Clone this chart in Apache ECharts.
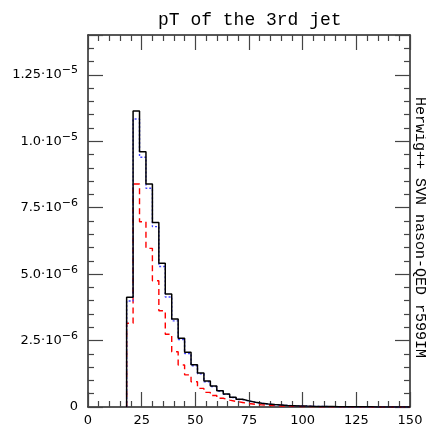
<!DOCTYPE html>
<html>
<head>
<meta charset="utf-8">
<script src="https://cdn.jsdelivr.net/npm/echarts@6/dist/echarts.min.js"></script>
<style>
  html, body { margin: 0; padding: 0; background: #fff; }
  #chart { width: 426px; height: 427px; }
</style>
</head>
<body>
<div id="chart"></div>
<script>
// bin lower edges (GeV), bin width 3
var binEdges = [18, 21, 24, 27, 30, 33, 36, 39, 42, 45, 48, 51, 54, 57, 60, 63, 66, 69, 72, 75,
  78, 81, 84, 87, 90, 93, 96, 99, 102, 105, 108, 111, 114, 117, 120, 123, 126, 129, 132, 135,
  138, 141, 144, 147, 150];

// Herwig++ (black, solid)
var blackVals = [4.13e-6, 11.14e-6, 9.61e-6, 8.39e-6, 6.94e-6, 5.41e-6, 4.25e-6, 3.31e-6, 2.59e-6, 2.06e-6,
  1.59e-6, 1.28e-6, 0.98e-6, 0.79e-6, 0.61e-6, 0.49e-6, 0.37e-6, 0.29e-6, 0.23e-6, 0.18e-6,
  0.145e-6, 0.115e-6, 0.09e-6, 0.075e-6, 0.06e-6, 0.05e-6, 0.04e-6, 0.033e-6, 0.027e-6, 0.022e-6,
  0.018e-6, 0.015e-6, 0.012e-6, 0.010e-6, 0.008e-6, 0.007e-6, 0.006e-6, 0.005e-6, 0.004e-6, 0.0035e-6,
  0.003e-6, 0.0025e-6, 0.002e-6, 0.0018e-6];

// blue, dotted
var blueVals = [3.99e-6, 10.84e-6, 9.40e-6, 8.23e-6, 6.79e-6, 5.29e-6, 4.14e-6, 3.24e-6, 2.54e-6, 2.01e-6,
  1.55e-6, 1.25e-6, 0.95e-6, 0.77e-6, 0.59e-6, 0.475e-6, 0.36e-6, 0.28e-6, 0.22e-6, 0.175e-6,
  0.14e-6, 0.11e-6, 0.087e-6, 0.072e-6, 0.058e-6, 0.048e-6, 0.039e-6, 0.032e-6, 0.026e-6, 0.021e-6,
  0.017e-6, 0.014e-6, 0.0115e-6, 0.0095e-6, 0.0078e-6, 0.0068e-6, 0.0058e-6, 0.0048e-6, 0.0039e-6, 0.0034e-6,
  0.0029e-6, 0.0024e-6, 0.002e-6, 0.0017e-6];

// red, dashed
var redVals = [3.15e-6, 8.39e-6, 6.97e-6, 5.97e-6, 4.75e-6, 3.62e-6, 2.74e-6, 2.08e-6, 1.58e-6, 1.21e-6,
  0.95e-6, 0.70e-6, 0.55e-6, 0.43e-6, 0.33e-6, 0.26e-6, 0.21e-6, 0.17e-6, 0.13e-6, 0.10e-6,
  0.08e-6, 0.065e-6, 0.05e-6, 0.04e-6, 0.032e-6, 0.026e-6, 0.021e-6, 0.017e-6, 0.014e-6, 0.011e-6,
  0.009e-6, 0.0075e-6, 0.006e-6, 0.005e-6, 0.004e-6, 0.0035e-6, 0.003e-6, 0.0025e-6, 0.002e-6, 0.0017e-6,
  0.0015e-6, 0.0012e-6, 0.001e-6, 0.0008e-6];

var xTicks = [0, 25, 50, 75, 100, 125, 150];
var yTicks = [0, 2.5e-6, 5.0e-6, 7.5e-6, 1.0e-5, 1.25e-5];

// histogram -> step points
function histPoints(vals) {
  var pts = [[binEdges[0], 0]];
  for (var i = 0; i < vals.length; i++) {
    pts.push([binEdges[i], vals[i]]);
  }
  pts.push([binEdges[vals.length], vals[vals.length - 1]]);
  return pts;
}

// "1.25·10^-5" style labels
function sciLabel(v) {
  if (v === 0) return '{m|0}';
  var e = Math.floor(Math.log10(v) + 1e-9);
  var m = Number((v / Math.pow(10, e)).toPrecision(6));
  var ms = (m % 1 === 0) ? m.toFixed(1) : String(m);
  return '{m|' + ms + '·10}{e|\u2212' + Math.abs(e) + '}';
}

var chart = echarts.init(document.getElementById('chart'));

var tickCol = '#444';
var frameAxis = {
  axisLine: { show: true, onZero: false, lineStyle: { color: '#222', width: 1.5 } },
  axisTick: { show: true, inside: true, length: 15, lineStyle: { color: tickCol, width: 1.2 } },
  minorTick: { show: true, splitNumber: 5, length: 6, lineStyle: { color: tickCol, width: 1.2 } },
  splitLine: { show: false }
};

chart.setOption({
  backgroundColor: '#fff',
  animation: false,
  title: {
    text: 'pT of the 3rd jet',
    left: 153,
    top: 6,
    textStyle: { fontFamily: 'Liberation Mono', fontSize: 18, fontWeight: 'normal', color: '#000' }
  },
  grid: { left: 88, right: 16, top: 35, bottom: 20 },
  xAxis: [
    Object.assign({
      type: 'value', min: 0, max: 150, interval: 25, position: 'bottom',
      axisLabel: {
        margin: 7, color: '#000', fontFamily: 'DejaVu Sans', fontSize: 13,
        formatter: function (v) { return xTicks.indexOf(v) >= 0 ? String(v) : ''; }
      }
    }, frameAxis),
    Object.assign({
      type: 'value', min: 0, max: 150, interval: 25, position: 'top',
      axisLabel: { show: false }
    }, frameAxis)
  ],
  yAxis: [
    Object.assign({
      type: 'value', min: 0, max: 1.4e-5, interval: 2.5e-6, position: 'left',
      axisLabel: {
        margin: 10, color: '#000', fontFamily: 'DejaVu Sans',
        formatter: function (v) {
          for (var i = 0; i < yTicks.length; i++) {
            if (Math.abs(v - yTicks[i]) < 1e-9) return sciLabel(yTicks[i]);
          }
          return '';
        },
        rich: {
          m: { fontSize: 13, fontFamily: 'DejaVu Sans', color: '#000' },
          e: { fontSize: 11, fontFamily: 'DejaVu Sans', color: '#000', padding: [0, 0, 9, 0] }
        }
      }
    }, frameAxis),
    Object.assign({
      type: 'value', min: 0, max: 1.4e-5, interval: 2.5e-6, position: 'right',
      axisLabel: { show: false }
    }, frameAxis)
  ],
  graphic: [{
    type: 'text',
    x: 420, y: 97,
    rotation: -Math.PI / 2,
    style: {
      text: 'Herwig++ SVN nason-QED r599IM',
      fontFamily: 'Liberation Mono', fontSize: 15, fill: '#000',
      align: 'left', verticalAlign: 'middle'
    }
  }],
  series: [
    {
      name: 'red', type: 'line', step: 'end', symbol: 'none', xAxisIndex: 0, yAxisIndex: 0,
      data: histPoints(redVals),
      lineStyle: { color: '#ff0000', width: 1.4, type: [6, 4] }
    },
    {
      name: 'blue', type: 'line', step: 'end', symbol: 'none', xAxisIndex: 0, yAxisIndex: 0,
      data: histPoints(blueVals),
      lineStyle: { color: '#4444ff', width: 1.4, type: [2, 2] }
    },
    {
      name: 'black', type: 'line', step: 'end', symbol: 'none', xAxisIndex: 0, yAxisIndex: 0,
      data: histPoints(blackVals),
      lineStyle: { color: '#000', width: 1.5 }
    }
  ]
});
</script>
</body>
</html>
